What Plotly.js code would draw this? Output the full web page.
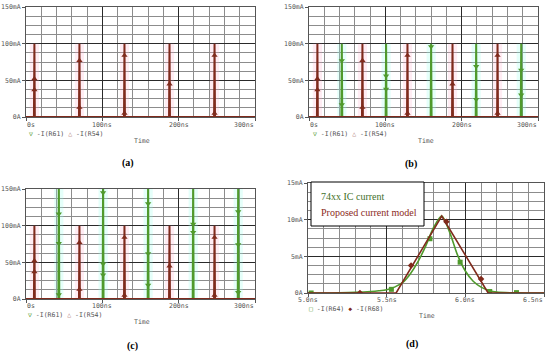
<!DOCTYPE html>
<html>
<head>
<meta charset="utf-8">
<script src="https://cdn.plot.ly/plotly-3.0.1.min.js"></script>
<style>html,body{margin:0;padding:0;background:#fff}#chart{width:550px;height:354px}</style>
</head>
<body>
<div id="chart"></div>
<script>
// ---------- data ----------
const redSpikeTimes = [11, 70, 129, 188, 247];          // ns
const redSpikePeak = 100;                                 // mA
const redMarkerTimes = [11, 11, 70, 70, 129, 129, 188, 247, 247];
const redMarkerVals  = [52, 37, 77, 13, 84, 5, 45, 84, 5];

const greenSpikeTimes = [43, 101, 160, 219, 278];       // ns
const greenPeakB = 100;                                   // mA
const greenMarkerTimesB = [43, 43, 101, 101, 160, 219, 219, 278, 278];
const greenMarkerValsB  = [77, 17, 56, 38, 96, 69, 24, 64, 30];
const greenPeakC = 170;                                   // mA (off scale)
const greenMarkerTimesC = [43, 43, 43, 101, 101, 101, 160, 160, 160, 219, 219, 278, 278, 278];
const greenMarkerValsC  = [116, 76, 6, 145, 48, 33, 130, 62, 19, 102, 91, 119, 74, 9];

const timeTickVals = [0, 100, 200, 300];
const timeTickText = ['0s', '100ns', '200ns', '300ns'];
const currTickVals = [0, 50, 100, 150];
const currTickText = ['0A', '50mA', '100mA', '150mA'];

// panel (d)
const icTime = [5.0, 5.1, 5.2, 5.3, 5.4, 5.45, 5.5, 5.55, 5.6, 5.65, 5.7, 5.75, 5.8, 5.85, 5.9, 5.95, 6.0, 6.05, 6.1, 6.15, 6.2, 6.3, 6.4, 6.5];
const icCurr = [0, 0, 0.02, 0.08, 0.2, 0.3, 0.45, 0.8, 1.4, 2.6, 4.3, 6.5, 9.0, 10.5, 8.3, 5.2, 3.0, 1.6, 0.8, 0.35, 0.12, 0.02, 0, 0];
const icMarkTime = [5.02, 5.53, 5.775, 5.967, 6.155, 6.325];
const icMarkCurr = [0, 0.5, 7.4, 4.2, 0.2, 0.05];
const modelTime = [5.0, 5.56, 5.85, 6.145, 6.5];
const modelCurr = [0, 0, 10.5, 0, 0];
const modelMarkTime = [5.33, 5.655, 5.88, 6.1];
const modelMarkCurr = [0, 3.75, 9.7, 1.9];
const dTickVals = [5.0, 5.5, 6.0, 6.5];
const dTickText = ['5.0ns', '5.5ns', '6.0ns', '6.5ns'];
const dYTickVals = [0, 5, 10, 15];
const dYTickText = ['0A', '5mA', '10mA', '15mA'];

// ---------- helpers ----------
const W = 550, H = 354;
const fx = p => p / W;
const fy = p => 1 - p / H;
const RED = '#7f2a1c', GREEN = '#4f9a2c';
const MONO = 'DejaVu Sans Mono';
const TF = {family: MONO, size: 6.5, color: '#555'};

function spikeLine(times, peak, xmin, xmax) {
  const x = [xmin], y = [0];
  times.forEach(t => { x.push(t - 0.6, t, t + 0.6); y.push(0, peak, 0); });
  x.push(xmax); y.push(0);
  return {x, y};
}

const traces = [];
function addHalo(times, peak, color, xa, ya) {
  traces.push({type: 'bar', x: times, y: times.map(() => Math.min(peak, 150)), width: 12, xaxis: xa, yaxis: ya,
    marker: {color, line: {width: 0}}, hoverinfo: 'skip', showlegend: false});
}
function addSpikes(times, peak, mt, mv, color, symbol, xa, ya) {
  const s = spikeLine(times, peak, 0, 300);
  traces.push({x: s.x, y: s.y, xaxis: xa, yaxis: ya, mode: 'lines', line: {color, width: 2}, hoverinfo: 'skip', showlegend: false});
  traces.push({x: mt, y: mv, xaxis: xa, yaxis: ya, mode: 'markers', marker: {color, size: 5.5, symbol}, showlegend: false});
}
const PINK = 'rgba(255,170,200,0.22)', CYAN = 'rgba(150,255,235,0.25)';
// (a)
addHalo(redSpikeTimes, redSpikePeak, PINK, 'x', 'y');
addSpikes(redSpikeTimes, redSpikePeak, redMarkerTimes, redMarkerVals, RED, 'triangle-up', 'x', 'y');
// (b)
addHalo(greenSpikeTimes, greenPeakB, CYAN, 'x2', 'y2');
addHalo(redSpikeTimes, redSpikePeak, PINK, 'x2', 'y2');
addSpikes(greenSpikeTimes, greenPeakB, greenMarkerTimesB, greenMarkerValsB, GREEN, 'triangle-down', 'x2', 'y2');
addSpikes(redSpikeTimes, redSpikePeak, redMarkerTimes, redMarkerVals, RED, 'triangle-up', 'x2', 'y2');
// (c)
addHalo(greenSpikeTimes, greenPeakC, CYAN, 'x3', 'y3');
addHalo(redSpikeTimes, redSpikePeak, PINK, 'x3', 'y3');
addSpikes(greenSpikeTimes, greenPeakC, greenMarkerTimesC, greenMarkerValsC, GREEN, 'triangle-down', 'x3', 'y3');
addSpikes(redSpikeTimes, redSpikePeak, redMarkerTimes, redMarkerVals, RED, 'triangle-up', 'x3', 'y3');
// (d)
traces.push({x: icTime, y: icCurr, xaxis: 'x4', yaxis: 'y4', mode: 'lines', line: {color: GREEN, width: 1.6, shape: 'spline', smoothing: 0.8}, showlegend: false});
traces.push({x: icMarkTime, y: icMarkCurr, xaxis: 'x4', yaxis: 'y4', mode: 'markers', marker: {color: GREEN, size: 5, symbol: 'square'}, showlegend: false});
traces.push({x: modelTime, y: modelCurr, xaxis: 'x4', yaxis: 'y4', mode: 'lines', line: {color: RED, width: 1.6}, showlegend: false});
traces.push({x: modelMarkTime, y: modelMarkCurr, xaxis: 'x4', yaxis: 'y4', mode: 'markers', marker: {color: RED, size: 5, symbol: 'diamond'}, showlegend: false});

function axis(dom, anchor, range, tv, tt, minorDt, showLabels) {
  return {domain: dom, anchor, range, tickmode: 'array', tickvals: tv, ticktext: tt,
    showticklabels: showLabels,
    showgrid: true, gridcolor: '#2a2a2a', gridwidth: 1, zeroline: false,
    showline: true, mirror: true, linecolor: '#555', linewidth: 1,
    ticks: 'outside', ticklen: 3, tickcolor: '#555',
    tickfont: TF,
    minor: {tickmode: 'linear', tick0: range[0], dtick: minorDt, showgrid: true, gridcolor: '#8c8c8c', gridwidth: 1, ticks: ''},
    fixedrange: true};
}

const xdA = [fx(26), fx(255)], xdB = [fx(309), fx(538)], xdD = [fx(308), fx(544)];
const ydTop = [fy(117), fy(7)], ydC = [fy(299), fy(189)], ydD = [fy(293), fy(183)];

const ann = [];
function txt(x, y, text, opts) {
  ann.push(Object.assign({xref: 'paper', yref: 'paper', x: fx(x), y: fy(y), text, showarrow: false,
    xanchor: 'center', yanchor: 'middle', font: TF}, opts || {}));
}
// x tick labels placed through the axes' own scales
function xLabels(xref, vals, texts, ypx, firstAnchor) {
  vals.forEach((v, i) => {
    const anchor = i === 0 ? firstAnchor : (i === vals.length - 1 ? 'right' : 'center');
    ann.push({xref, yref: 'paper', x: v, y: fy(ypx), text: texts[i], showarrow: false,
      xanchor: anchor, yanchor: 'middle', font: TF, borderpad: 0});
  });
}
xLabels('x', timeTickVals, timeTickText, 125, 'left');
xLabels('x2', timeTickVals, timeTickText, 125, 'left');
xLabels('x3', timeTickVals, timeTickText, 306, 'left');
xLabels('x4', dTickVals, dTickText, 300, 'center');

const legAB = '<span style="color:' + GREEN + '">▽</span> -I(R61) <span style="color:' + RED + '">△</span> -I(R54)';
txt(27, 133.5, legAB, {xanchor: 'left'});
txt(311, 133.5, legAB, {xanchor: 'left'});
txt(26, 314.5, legAB, {xanchor: 'left'});
txt(307, 308.5, '<span style="color:' + GREEN + '">□</span> -I(R64) <span style="color:' + RED + '">◆</span> -I(R68)', {xanchor: 'left'});
txt(142, 140.5, 'Time'); txt(426, 140.5, 'Time'); txt(142, 321.5, 'Time'); txt(427, 315.5, 'Time');
const PF = {family: 'Liberation Serif', size: 10, color: '#000'};
txt(128, 163, '<b>(a)</b>', {font: PF});
txt(411, 164, '<b>(b)</b>', {font: PF});
txt(132, 346, '<b>(c)</b>', {font: PF});
txt(412, 344, '<b>(d)</b>', {font: PF});
txt(319, 196, '74xx IC current', {xanchor: 'left', font: {family: 'Liberation Serif', size: 10, color: '#3f6f2a'}});
txt(319, 212.5, 'Proposed current model', {xanchor: 'left', font: {family: 'Liberation Serif', size: 10, color: '#8b2a22'}});

const layout = {
  width: W, height: H, margin: {l: 0, r: 0, t: 0, b: 0},
  paper_bgcolor: '#fff', plot_bgcolor: '#fff', showlegend: false, barmode: 'overlay',
  xaxis:  axis(xdA, 'y',  [0, 300], timeTickVals, timeTickText, 20, false),
  yaxis:  axis(ydTop, 'x', [0, 150], currTickVals, currTickText, 12.5, true),
  xaxis2: axis(xdB, 'y2', [0, 300], timeTickVals, timeTickText, 20, false),
  yaxis2: axis(ydTop, 'x2', [0, 150], currTickVals, currTickText, 12.5, true),
  xaxis3: axis(xdA, 'y3', [0, 300], timeTickVals, timeTickText, 20, false),
  yaxis3: axis(ydC, 'x3', [0, 150], currTickVals, currTickText, 12.5, true),
  xaxis4: axis(xdD, 'y4', [5.0, 6.5], dTickVals, dTickText, 0.1, false),
  yaxis4: axis(ydD, 'x4', [0, 15], dYTickVals, dYTickText, 1.25, true),
  shapes: [{type: 'rect', xref: 'paper', yref: 'paper', x0: fx(311), x1: fx(424), y0: fy(226), y1: fy(182),
    fillcolor: '#fff', line: {color: '#000', width: 1}, layer: 'above'}],
  annotations: ann
};
Plotly.newPlot('chart', traces, layout, {displayModeBar: false, staticPlot: true});
</script>
</body>
</html>
